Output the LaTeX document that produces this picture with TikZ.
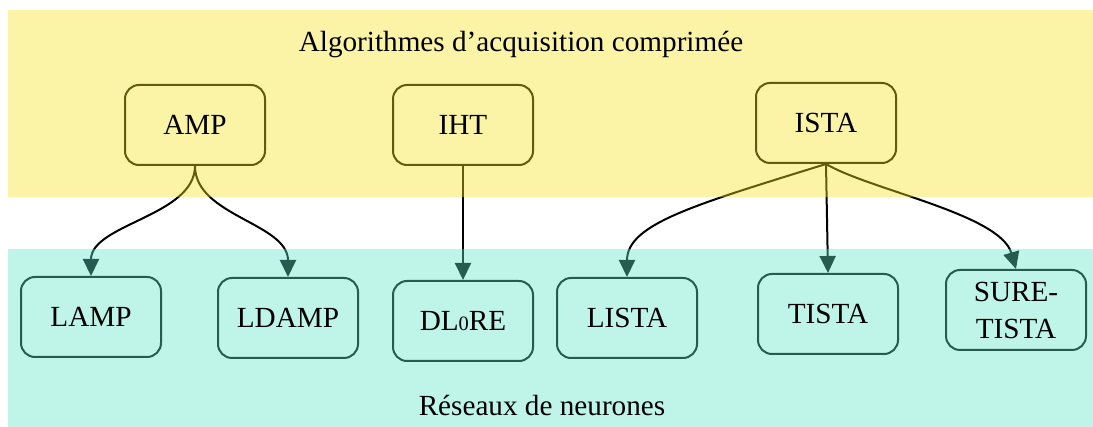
\documentclass[tikz,border=0pt]{standalone}
\usepackage{fontspec}
\setmainfont{Liberation Serif}
\usetikzlibrary{arrows.meta}

\pgfdeclarelayer{edges}
\pgfdeclarelayer{bands}
\pgfsetlayers{edges,bands,main}

\definecolor{algobase}{RGB}{245,225,30}
\definecolor{netbase}{RGB}{95,230,198}
\definecolor{algoline}{RGB}{98,90,12}
\definecolor{netline}{RGB}{38,92,79}

\begin{document}
\begin{tikzpicture}[
    x=0.5pt, y=-0.5pt,
    >={Triangle[length=8.5pt,width=8pt]},
    every node/.style={font=\fontsize{14.6}{18.5}\selectfont},
    line width=1pt,
    algo/.style={draw=algoline, rounded corners=7pt,
                 minimum width=70pt, minimum height=40pt},
    net/.style={draw=netline, rounded corners=7pt,
                minimum width=70pt, minimum height=40pt},
    link/.style={->, line width=1pt, black}
]

\useasboundingbox (0,0) rectangle (1093,427);

\def\Top{125}
\def\Bot{318}

% Algorithms
\node[algo] (amp)  at (195,\Top) {AMP};
\node[algo] (iht)  at (463,\Top) {IHT};
\node[algo] (ista) at (826,123)  {ISTA};

% Networks
\node[net] (lamp)  at (91,317)   {LAMP};
\node[net] (ldamp) at (288,\Bot) {LDAMP};
\node[net] (dlre)  at (463,321)  {DL{\fontsize{10.2}{11}\selectfont 0}RE};
\node[net] (lista) at (627,\Bot) {LISTA};
\node[net] (tista) at (828,314)  {TISTA};
\node[net, align=center] (sure) at (1016,310) {SURE-\\TISTA};

\node (algotitle) at (521,45)  {Algorithmes d'acquisition comprimée};
\node (nettitle)  at (542,405) {Réseaux de neurones};

\begin{pgfonlayer}{edges}
\draw[link] (amp.south) .. controls +(0,50) and +(0,-52) .. (lamp.north);
\draw[link] (amp.south) .. controls +(0,50) and +(0,-54) .. (ldamp.north);
\draw[link] (iht.south) -- (dlre.north);
\draw[link] (ista.south) .. controls +(-132,41) and +(0,-53) .. (lista.north);
\draw[link] (ista.south) -- (tista.north);
\draw[link] (ista.south) .. controls +(44,26) and +(-16,-55) .. (sure.north);
\end{pgfonlayer}

% Bands over the edges
\begin{pgfonlayer}{bands}
\fill[algobase, fill opacity=0.4] (8,10) rectangle (1093,197);
\fill[netbase, fill opacity=0.4] (8,249) rectangle (1093,427);
\end{pgfonlayer}

\end{tikzpicture}
\end{document}
